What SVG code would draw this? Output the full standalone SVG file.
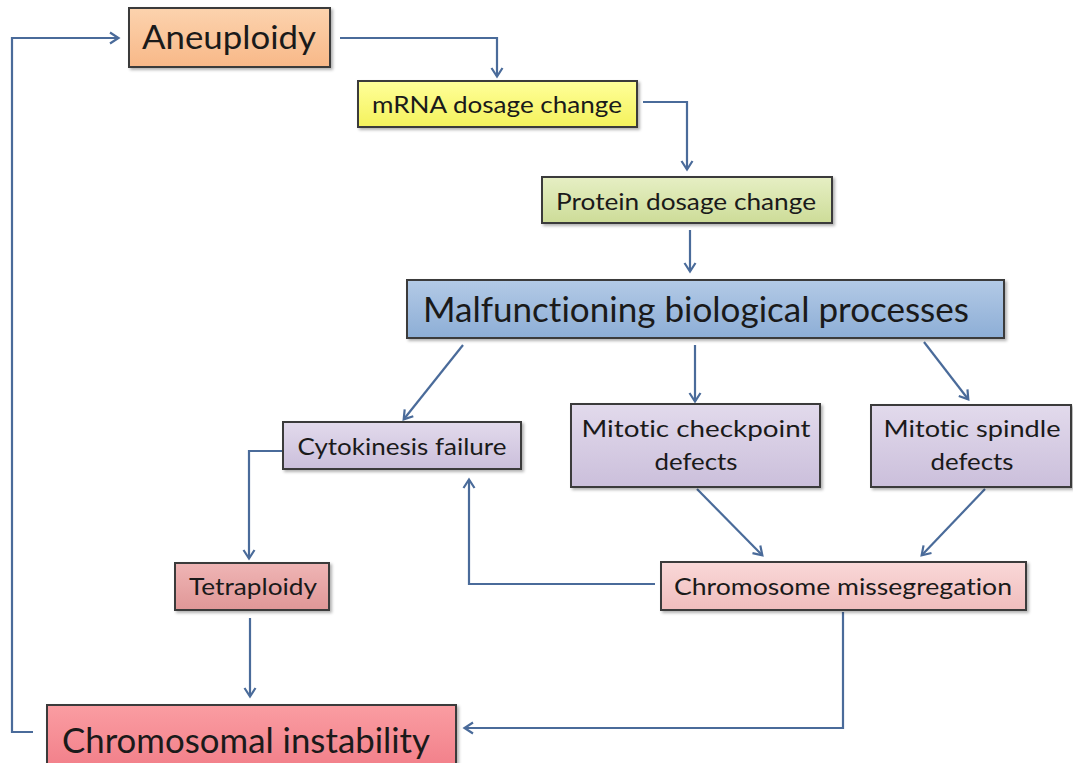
<svg xmlns="http://www.w3.org/2000/svg" width="1073" height="763" viewBox="0 0 1073 763">
<style>
.box{stroke:#3a3a3a;stroke-width:2}
.t{font-family:Lato,"Liberation Sans",sans-serif;fill:#1a1a1a;text-anchor:middle;font-variant-ligatures:none}
.s{font-size:23px}
.b{font-size:34px}
.c{fill:none;stroke:#4A6B9A;stroke-width:2.2;marker-end:url(#ah)}
</style>
<defs>
<marker id="ah" markerWidth="14" markerHeight="14" refX="10" refY="7" orient="auto" markerUnits="userSpaceOnUse">
<path d="M2,1.5 L10.5,7 L2,12.5" fill="none" stroke="#4A6B9A" stroke-width="2.2"/>
</marker>
<filter id="sh" x="-5%" y="-10%" width="115%" height="130%">
<feDropShadow dx="2" dy="2" stdDeviation="1.5" flood-color="#000" flood-opacity="0.3"/>
</filter>
<linearGradient id="gOr" x1="0" y1="0" x2="0" y2="1"><stop offset="0" stop-color="#FCD3AE"/><stop offset="1" stop-color="#F8B888"/></linearGradient>
<linearGradient id="gYe" x1="0" y1="0" x2="0" y2="1"><stop offset="0" stop-color="#FFFF9A"/><stop offset="1" stop-color="#F4F25C"/></linearGradient>
<linearGradient id="gGr" x1="0" y1="0" x2="0" y2="1"><stop offset="0" stop-color="#E6EFC4"/><stop offset="1" stop-color="#CDDC98"/></linearGradient>
<linearGradient id="gBl" x1="0" y1="0" x2="0" y2="1"><stop offset="0" stop-color="#B3CAE6"/><stop offset="1" stop-color="#8DAED6"/></linearGradient>
<linearGradient id="gLa" x1="0" y1="0" x2="0" y2="1"><stop offset="0" stop-color="#E2DAEC"/><stop offset="1" stop-color="#CBBFDB"/></linearGradient>
<linearGradient id="gPk" x1="0" y1="0" x2="0" y2="1"><stop offset="0" stop-color="#F9D8D8"/><stop offset="1" stop-color="#F0BDBD"/></linearGradient>
<linearGradient id="gTe" x1="0" y1="0" x2="0" y2="1"><stop offset="0" stop-color="#EFB5B5"/><stop offset="1" stop-color="#E09797"/></linearGradient>
<linearGradient id="gRe" x1="0" y1="0" x2="0" y2="1"><stop offset="0" stop-color="#FA9DA2"/><stop offset="1" stop-color="#F2808A"/></linearGradient>
</defs>
<rect width="1073" height="763" fill="#fff"/>
<g id="connectors">
<path class="c" d="M33,732 H12 V38 H118"/>
<path class="c" d="M340,38 H497 V76"/>
<path class="c" d="M643,102 H687 V169"/>
<path class="c" d="M690,230 V271"/>
<path class="c" d="M463,345 L404,419"/>
<path class="c" d="M695,345 V401"/>
<path class="c" d="M924,342 L968,399"/>
<path class="c" d="M697,489 L762,555"/>
<path class="c" d="M985,489 L922,555"/>
<path class="c" d="M655,584 H469 V480"/>
<path class="c" d="M283,451 H249 V558"/>
<path class="c" d="M250,618 V696"/>
<path class="c" d="M843,612 V728 H465"/>
</g>
<g id="aneuploidy">
<rect class="box" x="129" y="8" width="201" height="59" fill="url(#gOr)" filter="url(#sh)"/>
<text class="t" x="229" y="49" font-size="32" textLength="174" lengthAdjust="spacingAndGlyphs">Aneuploidy</text>
</g>
<g id="mrna">
<rect class="box" x="358" y="81" width="279" height="46" fill="url(#gYe)" filter="url(#sh)"/>
<text class="t s" x="497" y="113" textLength="250" lengthAdjust="spacingAndGlyphs">mRNA dosage change</text>
</g>
<g id="protein">
<rect class="box" x="542" y="177" width="290" height="46" fill="url(#gGr)" filter="url(#sh)"/>
<text class="t s" x="686" y="210" textLength="260" lengthAdjust="spacingAndGlyphs">Protein dosage change</text>
</g>
<g id="malfunctioning">
<rect class="box" x="407" y="280" width="597" height="58" fill="url(#gBl)" filter="url(#sh)"/>
<text class="t b" x="696" y="322" textLength="546" lengthAdjust="spacingAndGlyphs">Malfunctioning biological processes</text>
</g>
<g id="cytokinesis">
<rect class="box" x="283" y="422" width="238" height="47" fill="url(#gLa)" filter="url(#sh)"/>
<text class="t s" x="402" y="455" textLength="209" lengthAdjust="spacingAndGlyphs">Cytokinesis failure</text>
</g>
<g id="checkpoint">
<rect class="box" x="571" y="404" width="249" height="83" fill="url(#gLa)" filter="url(#sh)"/>
<text class="t s" x="696" y="437" textLength="229" lengthAdjust="spacingAndGlyphs">Mitotic checkpoint</text>
<text class="t s" x="696" y="470" textLength="83" lengthAdjust="spacingAndGlyphs">defects</text>
</g>
<g id="spindle">
<rect class="box" x="871" y="405" width="200" height="82" fill="url(#gLa)" filter="url(#sh)"/>
<text class="t s" x="972" y="437" textLength="177" lengthAdjust="spacingAndGlyphs">Mitotic spindle</text>
<text class="t s" x="972" y="470" textLength="83" lengthAdjust="spacingAndGlyphs">defects</text>
</g>
<g id="missegregation">
<rect class="box" x="661" y="562" width="365" height="48" fill="url(#gPk)" filter="url(#sh)"/>
<text class="t s" x="843" y="595" textLength="338" lengthAdjust="spacingAndGlyphs">Chromosome missegregation</text>
</g>
<g id="tetraploidy">
<rect class="box" x="175" y="563" width="154" height="47" fill="url(#gTe)" filter="url(#sh)"/>
<text class="t s" x="253" y="595" textLength="128" lengthAdjust="spacingAndGlyphs">Tetraploidy</text>
</g>
<g id="instability">
<rect class="box" x="47" y="705" width="409" height="62" fill="url(#gRe)" filter="url(#sh)"/>
<text class="t b" x="246" y="753" textLength="368" lengthAdjust="spacingAndGlyphs">Chromosomal instability</text>
</g>
</svg>
